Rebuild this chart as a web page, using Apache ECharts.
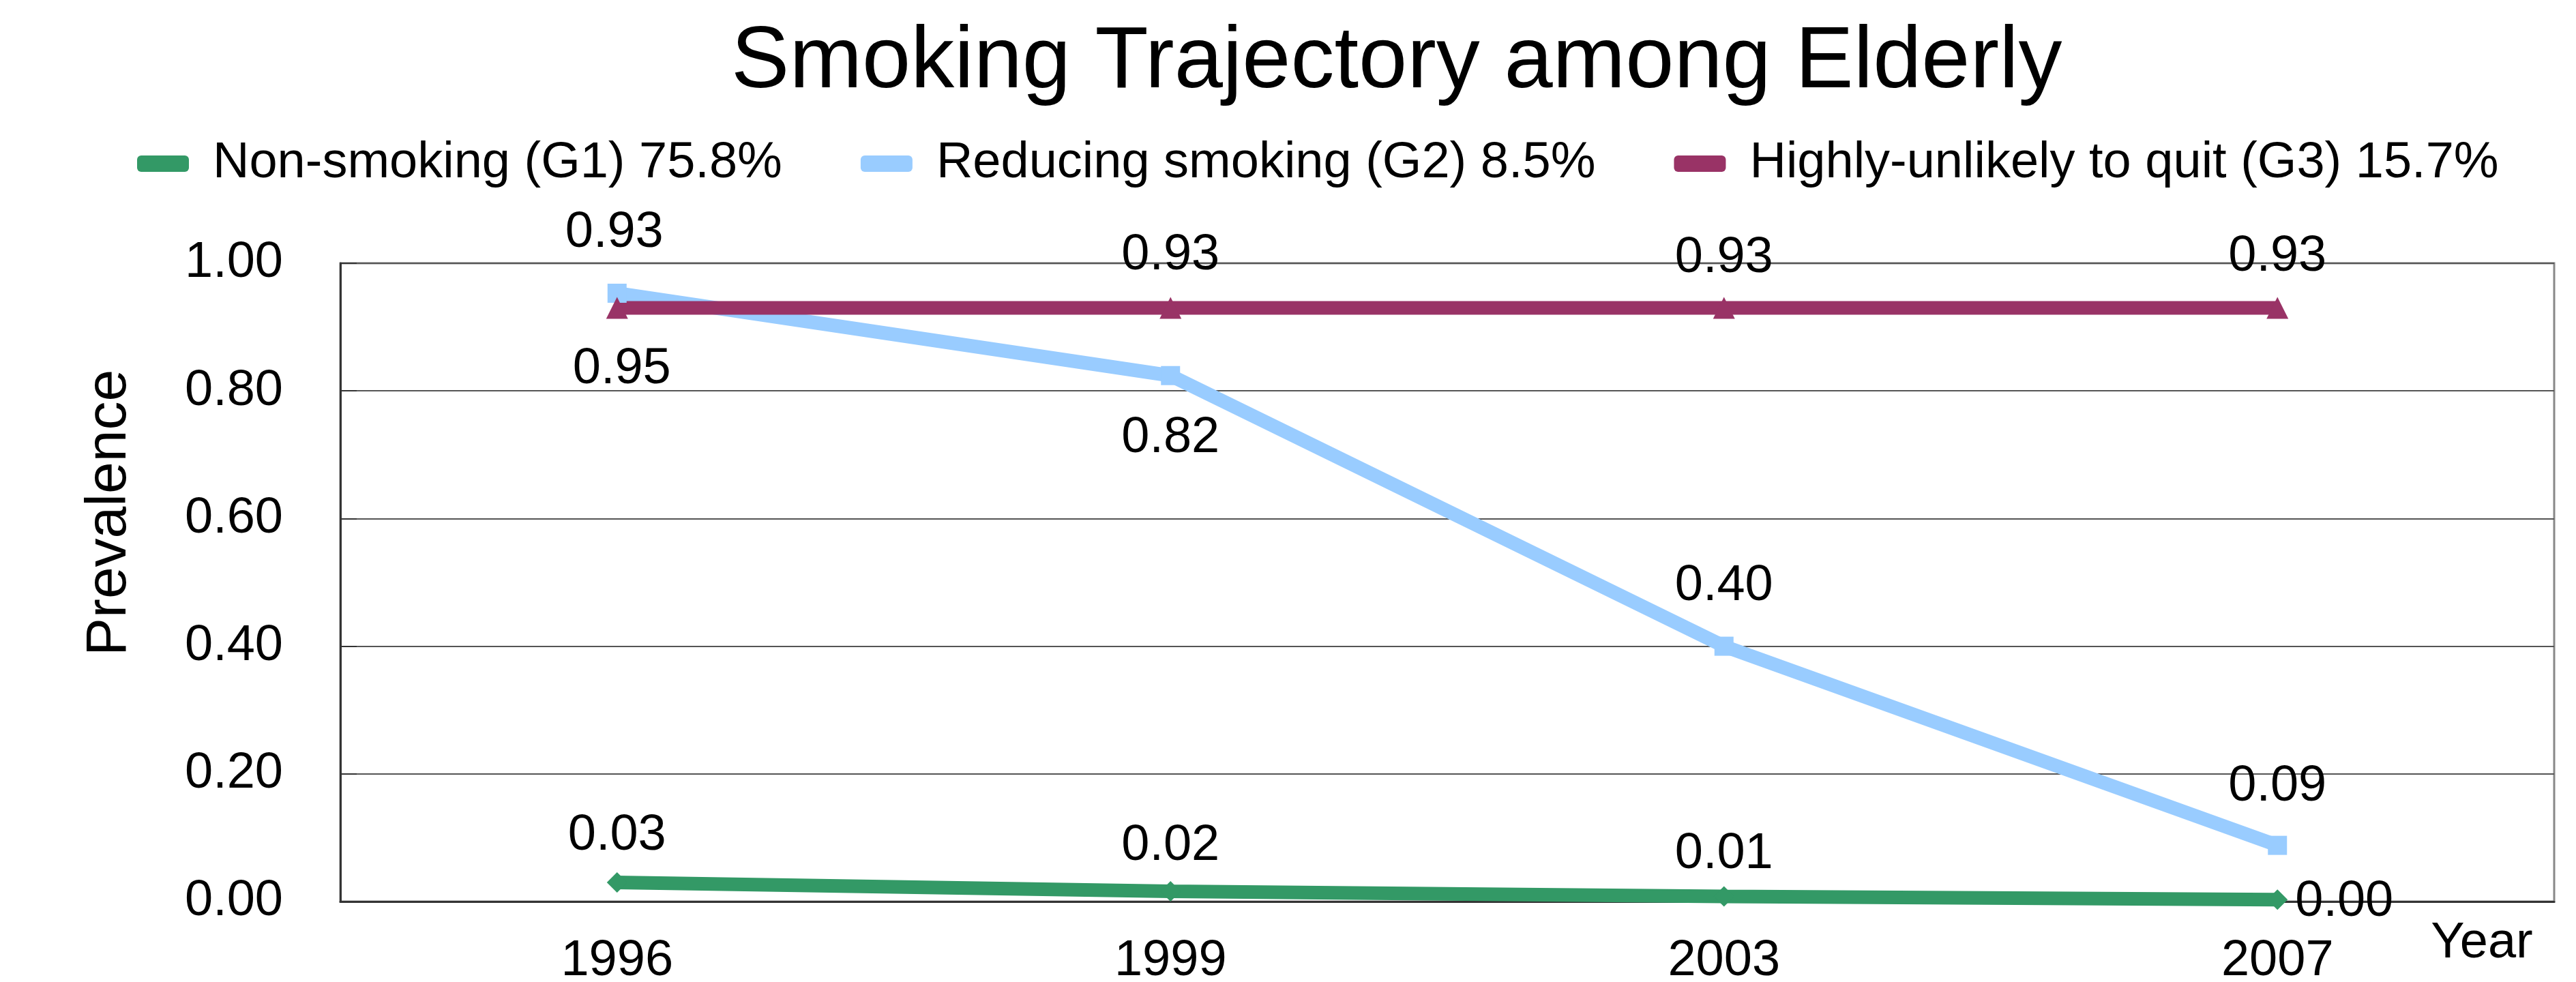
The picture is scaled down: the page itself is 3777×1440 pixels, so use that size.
<!DOCTYPE html>
<html lang="en">
<head>
    <meta charset="UTF-8">
    <title>Smoking Trajectory among Elderly</title>
    <style>
        body { margin: 0; background: #fff; }
    </style>
</head>
<body>
    <div id="main" style="width: 3777px;height:1440px;"></div>
    <script src="https://cdn.jsdelivr.net/npm/echarts@6/dist/echarts.min.js"></script>
    <script type="text/javascript">
        // data
        var years = ['1996', '1999', '2003', '2007'];
        var seriesNames = ['Non-smoking (G1) 75.8%', 'Reducing smoking (G2) 8.5%', 'Highly-unlikely to quit (G3) 15.7%'];
        var g1 = [0.030, 0.016, 0.008, 0.003];
        var g2 = [0.953, 0.824, 0.400, 0.088];
        var g3 = [0.930, 0.930, 0.930, 0.930];
        var yTicks = [0, 0.2, 0.4, 0.6, 0.8, 1.0];

        // label placement (px offsets from the point), kept apart from the values
        var g1LabelOffset = [[0, -68], [0, -66], [0, -62], [98, 3]];
        var g2LabelOffset = [[7, 112], [0, 92], [0, -88], [0, -86]];
        var g3LabelOffset = [[-4, -110], [0, -77], [0, -73], [0, -75]];

        var font = 'Liberation Sans';
        var colors = ['#339966', '#99CCFF', '#993366'];

        var withLabels = function (vals, offsets) {
            var res = [];
            for (var i = 0; i < vals.length; i++) {
                res.push({
                    value: vals[i],
                    label: { offset: offsets[i] }
                });
            }
            return res;
        };

        var makeSeries = function (name, vals, offsets, color, symbol, size) {
            return {
                name: name,
                type: 'line',
                data: withLabels(vals, offsets),
                symbol: symbol,
                symbolSize: size,
                lineStyle: { color: color, width: 20 },
                itemStyle: { color: color },
                label: {
                    show: true,
                    position: 'inside',
                    fontFamily: font,
                    fontSize: 74,
                    color: '#000',
                    formatter: function (p) { return p.value.toFixed(2); }
                }
            };
        };

        var myChart = echarts.init(document.getElementById('main'));
        var option = {
            backgroundColor: '#fff',
            animation: false,
            color: colors,
            title: {
                text: 'Smoking Trajectory among Elderly',
                left: 1067,
                top: 24,
                textStyle: { fontFamily: font, fontSize: 128, fontWeight: 'normal', color: '#000' }
            },
            legend: {
                data: seriesNames,
                left: 196,
                top: 198,
                icon: 'roundRect',
                itemWidth: 76,
                itemHeight: 24,
                itemGap: 115,
                textStyle: { fontFamily: font, fontSize: 74, color: '#000', padding: [0, 0, 0, 30] }
            },
            grid: {
                left: 499,
                right: 32,
                top: 386,
                bottom: 118,
                outerBoundsMode: 'none',
                show: true,
                borderColor: '#888',
                borderWidth: 3
            },
            xAxis: {
                type: 'category',
                data: years,
                boundaryGap: true,
                name: 'Year',
                nameLocation: 'end',
                nameGap: -106,
                nameTextStyle: {
                    fontFamily: font, fontSize: 74, color: '#000',
                    align: 'center', verticalAlign: 'top', lineHeight: 124
                },
                axisLine: { lineStyle: { color: '#333', width: 3 } },
                axisTick: { inside: true, length: 13, lineStyle: { color: '#333', width: 2 } },
                axisLabel: { fontFamily: font, fontSize: 74, color: '#000', margin: 51 },
                splitLine: { show: false }
            },
            yAxis: {
                type: 'value',
                min: yTicks[0],
                max: yTicks[yTicks.length - 1],
                interval: 0.2,
                name: 'Prevalence',
                nameLocation: 'middle',
                nameGap: 296,
                nameTextStyle: { fontFamily: font, fontSize: 84, color: '#000', padding: [0, 0, 0, 204] },
                axisLine: { show: true, lineStyle: { color: '#333', width: 3 } },
                axisTick: { show: true, inside: true, length: 24, lineStyle: { color: '#333', width: 2 } },
                axisLabel: {
                    fontFamily: font, fontSize: 74, color: '#000', margin: 84,
                    formatter: function (v) { return v.toFixed(2); }
                },
                splitLine: { lineStyle: { color: '#555', width: 2 } }
            },
            series: [
                makeSeries(seriesNames[0], g1, g1LabelOffset, colors[0], 'diamond', 30),
                makeSeries(seriesNames[1], g2, g2LabelOffset, colors[1], 'rect', 28),
                makeSeries(seriesNames[2], g3, g3LabelOffset, colors[2], 'triangle', 32)
            ]
        };
        myChart.setOption(option);
    </script>
</body>
</html>
